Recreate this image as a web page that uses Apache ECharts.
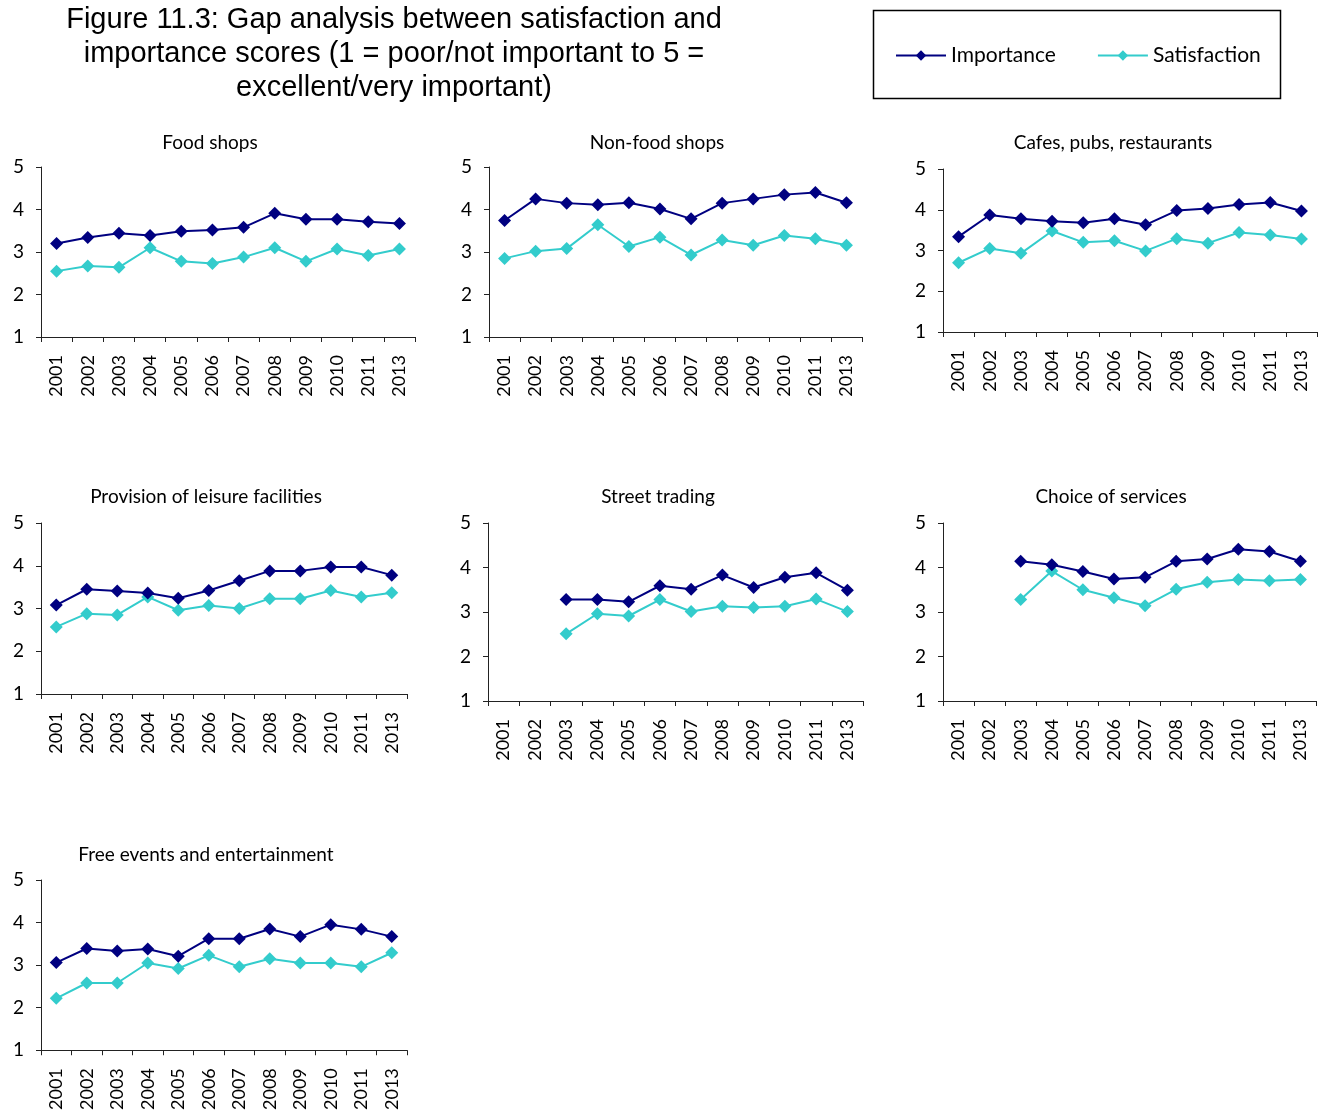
<!DOCTYPE html>
<html>
<head>
<meta charset="utf-8">
<title>Gap analysis between satisfaction and importance scores</title>
<script src="https://cdn.jsdelivr.net/npm/echarts@6/dist/echarts.min.js"></script>
<style>
  html, body { margin: 0; padding: 0; background: #fff; }
  #chart { width: 1325px; height: 1113px; }
</style>
</head>
<body>
<div id="chart"></div>
<script>
// Survey years (no 2012 survey)
const years = ['2001','2002','2003','2004','2005','2006','2007','2008','2009','2010','2011','2013'];

const panelTitles = [
  'Food shops',
  'Non-food shops',
  'Cafes, pubs, restaurants',
  'Provision of leisure facilities',
  'Street trading',
  'Choice of services',
  'Free events and entertainment'
];

const figureTitle = [
  'Figure 11.3: Gap analysis between satisfaction and',
  'importance scores (1 = poor/not important to 5 =',
  'excellent/very important)'
];

const yTicks = [1, 2, 3, 4, 5];

// Importance scores per topic
const impFood     = [3.20, 3.34, 3.44, 3.39, 3.49, 3.52, 3.58, 3.91, 3.77, 3.77, 3.71, 3.67];
const impNonFood  = [3.74, 4.25, 4.15, 4.11, 4.16, 4.01, 3.78, 4.15, 4.25, 4.35, 4.40, 4.16];
const impCafes    = [3.34, 3.87, 3.78, 3.72, 3.68, 3.78, 3.63, 3.98, 4.03, 4.13, 4.18, 3.97];
const impLeisure  = [3.08, 3.45, 3.41, 3.36, 3.24, 3.42, 3.65, 3.88, 3.88, 3.97, 3.97, 3.78];
const impStreet   = [null, null, 3.28, 3.28, 3.23, 3.59, 3.51, 3.83, 3.55, 3.78, 3.88, 3.49];
const impServices = [null, null, 4.14, 4.06, 3.91, 3.74, 3.78, 4.14, 4.19, 4.41, 4.36, 4.14];
const impEvents   = [3.06, 3.39, 3.33, 3.38, 3.21, 3.62, 3.62, 3.85, 3.67, 3.95, 3.84, 3.67];

// Satisfaction scores per topic
const satFood     = [2.55, 2.67, 2.64, 3.10, 2.78, 2.73, 2.88, 3.10, 2.78, 3.07, 2.92, 3.07];
const satNonFood  = [2.85, 3.02, 3.08, 3.64, 3.13, 3.35, 2.93, 3.28, 3.16, 3.39, 3.31, 3.16];
const satCafes    = [2.70, 3.05, 2.93, 3.48, 3.20, 3.24, 2.99, 3.29, 3.18, 3.44, 3.38, 3.28];
const satLeisure  = [2.57, 2.88, 2.85, 3.27, 2.96, 3.07, 3.00, 3.23, 3.23, 3.42, 3.27, 3.37];
const satStreet   = [null, null, 2.51, 2.96, 2.91, 3.28, 3.01, 3.13, 3.10, 3.13, 3.29, 3.01];
const satServices = [null, null, 3.28, 3.92, 3.50, 3.32, 3.14, 3.51, 3.67, 3.73, 3.70, 3.73];
const satEvents   = [2.22, 2.58, 2.58, 3.05, 2.92, 3.23, 2.96, 3.15, 3.05, 3.05, 2.96, 3.29];

const importance   = [impFood, impNonFood, impCafes, impLeisure, impStreet, impServices, impEvents];
const satisfaction = [satFood, satNonFood, satCafes, satLeisure, satStreet, satServices, satEvents];

// Plot area of each small multiple (px) and its heading centre
const layout = [
  { left: 41,  top: 167, width: 374, height: 170, tx: 210,  ty: 143 },
  { left: 489, top: 167, width: 373, height: 170, tx: 657,  ty: 143 },
  { left: 943, top: 169, width: 374, height: 163, tx: 1113, ty: 143 },
  { left: 41,  top: 523, width: 366, height: 171, tx: 206,  ty: 497 },
  { left: 488, top: 523, width: 375, height: 178, tx: 658,  ty: 497 },
  { left: 943, top: 523, width: 373, height: 178, tx: 1111, ty: 497 },
  { left: 41,  top: 880, width: 366, height: 171, tx: 206,  ty: 855 }
];

const NAVY = '#000080';
const TURQ = '#33CCCC';
const FONT = 'Lato';
const AXIS = '#222';

const grids = [], xAxes = [], yAxes = [], series = [];
const graphics = [];

layout.forEach((g, i) => {
  grids.push({ left: g.left, top: g.top, width: g.width, height: g.height });
  graphics.push({
    type: 'text', x: g.tx, y: g.ty,
    style: {
      text: panelTitles[i], fill: '#000',
      font: '19px ' + FONT, textAlign: 'center', textVerticalAlign: 'middle'
    }
  });
  xAxes.push({
    type: 'category', gridIndex: i, data: years, boundaryGap: true,
    axisLine: { lineStyle: { color: AXIS, width: 1 } },
    axisTick: { show: true, alignWithLabel: false, length: 5, lineStyle: { color: AXIS } },
    axisLabel: { rotate: 90, margin: 18, interval: 0, fontFamily: FONT, fontSize: 18, color: '#000' },
    splitLine: { show: false }
  });
  yAxes.push({
    type: 'value', gridIndex: i, min: yTicks[0], max: yTicks[yTicks.length - 1], interval: 1,
    axisLine: { show: true, lineStyle: { color: AXIS, width: 1 } },
    axisTick: { show: true, length: 5, lineStyle: { color: AXIS } },
    axisLabel: { margin: 17, fontFamily: FONT, fontSize: 19, color: '#000' },
    splitLine: { show: false }
  });
  series.push({
    name: 'Importance', type: 'line', xAxisIndex: i, yAxisIndex: i,
    data: importance[i], symbol: 'diamond', symbolSize: 13,
    lineStyle: { color: NAVY, width: 2 }, itemStyle: { color: NAVY },
    connectNulls: false, z: 3
  });
  series.push({
    name: 'Satisfaction', type: 'line', xAxisIndex: i, yAxisIndex: i,
    data: satisfaction[i], symbol: 'diamond', symbolSize: 13,
    lineStyle: { color: TURQ, width: 2 }, itemStyle: { color: TURQ },
    connectNulls: false, z: 2
  });
});

// Figure heading, three centred lines
figureTitle.forEach((line, k) => {
  graphics.push({
    type: 'text', x: 394, y: 20 + k * 34,
    style: {
      text: line, fill: '#000',
      font: '29px "Liberation Sans", Arial, sans-serif',
      textAlign: 'center', textVerticalAlign: 'middle'
    }
  });
});

// Legend frame
graphics.push({
  type: 'rect', shape: { x: 873.5, y: 10.5, width: 407, height: 88 },
  style: { fill: 'none', stroke: '#000', lineWidth: 1.5 }
});

const chart = echarts.init(document.getElementById('chart'), null, { renderer: 'canvas' });
chart.setOption({
  animation: false,
  backgroundColor: '#fff',
  legend: {
    data: ['Importance', 'Satisfaction'],
    left: 890, top: 40, itemWidth: 50, itemHeight: 13, itemGap: 41,
    textStyle: { fontFamily: FONT, fontSize: 21, color: '#000' }
  },
  graphic: graphics,
  grid: grids,
  xAxis: xAxes,
  yAxis: yAxes,
  series: series
});
</script>
</body>
</html>
